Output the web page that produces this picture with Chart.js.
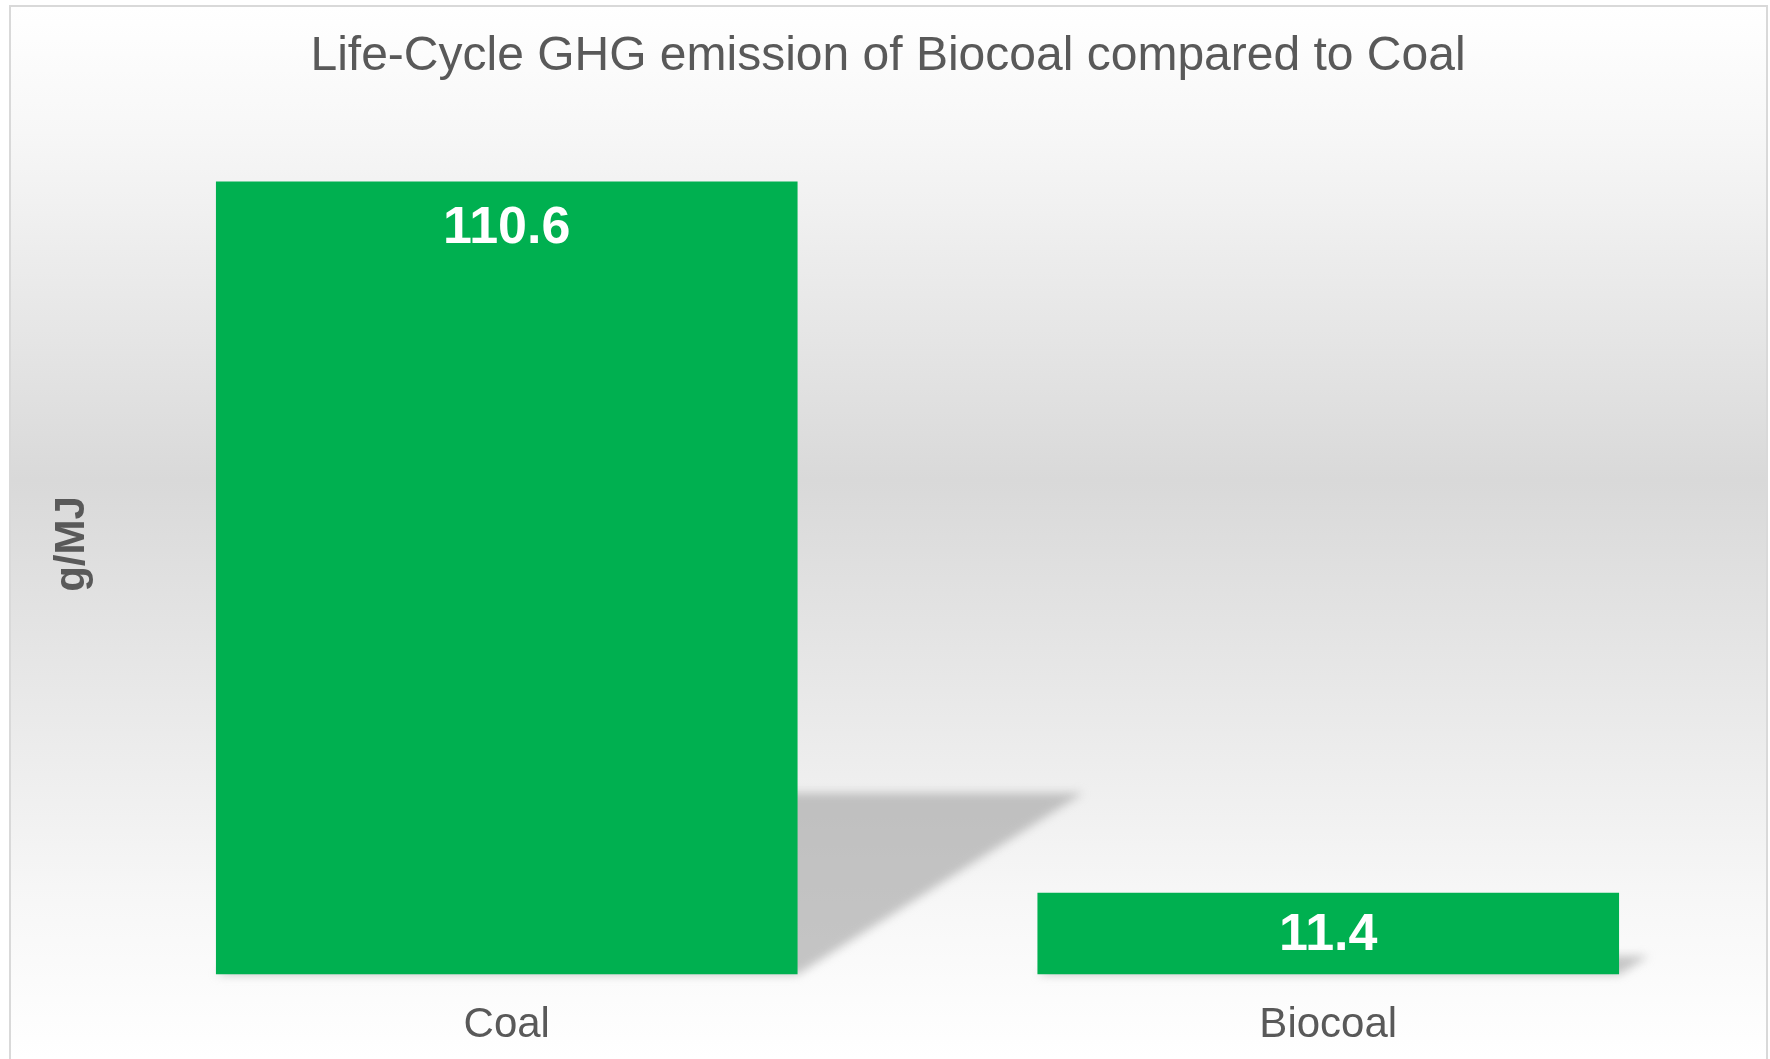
<!DOCTYPE html>
<html>
<head>
<meta charset="utf-8">
<script src="https://cdn.jsdelivr.net/npm/chart.js@4"></script>
<style>
  html, body { margin: 0; padding: 0; background: #ffffff; }
  #wrap { width: 1770px; height: 1059px; }
</style>
</head>
<body>
<div id="wrap"><canvas id="myChart"></canvas></div>
<script>
  // chart data
  const categories = ['Coal', 'Biocoal'];
  const emissions = [110.6, 11.4];
  const chartTitle = 'Life-Cycle GHG emission of Biocoal compared to Coal';
  const yTitle = 'g/MJ';

  const textColor = '#595959';
  const barColor = '#00b050';
  const fontFamily = '"Liberation Sans", Arial, sans-serif';

  // panel background, border, title and axis title
  const panelPlugin = {
    id: 'panel',
    beforeDraw(chart) {
      const ctx = chart.ctx;
      const x0 = 10, y0 = 6, x1 = 1767, y1 = 1059;
      ctx.save();
      const g = ctx.createLinearGradient(0, y0, 0, y1);
      g.addColorStop(0, '#ffffff');
      g.addColorStop(0.12, '#f7f7f7');
      g.addColorStop(0.45, '#d9d9d9');
      g.addColorStop(0.85, '#f7f7f7');
      g.addColorStop(1, '#ffffff');
      ctx.fillStyle = g;
      ctx.fillRect(x0, y0, x1 - x0, y1 - y0);
      ctx.strokeStyle = '#d9d9d9';
      ctx.lineWidth = 2;
      ctx.strokeRect(x0, y0, x1 - x0, y1 - y0 + 10);

      ctx.fillStyle = textColor;
      ctx.textAlign = 'center';
      ctx.textBaseline = 'middle';
      ctx.font = '48px ' + fontFamily;
      ctx.fillText(chartTitle, 888, 57);

      ctx.translate(72, 544);
      ctx.rotate(-Math.PI / 2);
      ctx.font = 'bold 42px ' + fontFamily;
      ctx.fillText(yTitle, 0, 0);
      ctx.restore();
    },
    // perspective shadows behind the bars
    beforeDatasetsDraw(chart) {
      const ctx = chart.ctx;
      const meta = chart.getDatasetMeta(0);
      ctx.save();
      ctx.filter = 'blur(5px)';
      ctx.fillStyle = 'rgba(160,160,160,0.6)';
      meta.data.forEach(function(bar) {
        const h = bar.base - bar.y;
        const left = bar.x - bar.width / 2;
        const right = bar.x + bar.width / 2;
        const dx = h * 0.36, dy = h * 0.229;
        ctx.beginPath();
        ctx.moveTo(left, bar.base);
        ctx.lineTo(right, bar.base);
        ctx.lineTo(right + dx, bar.base - dy);
        ctx.lineTo(left + dx, bar.base - dy);
        ctx.closePath();
        ctx.fill();
      });
      ctx.restore();
    },
    // value labels inside the bar ends
    afterDatasetsDraw(chart) {
      const ctx = chart.ctx;
      const meta = chart.getDatasetMeta(0);
      ctx.save();
      ctx.fillStyle = '#ffffff';
      ctx.textAlign = 'center';
      ctx.textBaseline = 'middle';
      ctx.font = 'bold 52px ' + fontFamily;
      meta.data.forEach(function(bar, i) {
        const y = Math.min(bar.y + 45, (bar.y + bar.base) / 2);
        ctx.fillText(emissions[i].toFixed(1), bar.x, y + 2);
      });
      ctx.restore();
    }
  };

  var canvas = document.getElementById('myChart');
  var setup = {
    type: 'bar',
    data: {
      labels: categories,
      datasets: [{
        data: emissions,
        backgroundColor: barColor,
        borderWidth: 0,
        barPercentage: 1.0,
        categoryPercentage: 0.708
      }]
    },
    options: {
      responsive: true,
      maintainAspectRatio: false,
      animation: false,
      layout: {
        padding: { left: 96, right: 31, top: 114, bottom: -18 }
      },
      plugins: {
        legend: { display: false },
        tooltip: { enabled: false },
        title: { display: false }
      },
      scales: {
        x: {
          grid: { display: false, drawTicks: false },
          border: { display: false },
          ticks: {
            color: textColor,
            padding: 26,
            font: { family: fontFamily, size: 42 }
          }
        },
        y: {
          display: false,
          min: 0,
          max: 120
        }
      }
    },
    plugins: [panelPlugin]
  };
  chart = new Chart(canvas, setup);
</script>
</body>
</html>
